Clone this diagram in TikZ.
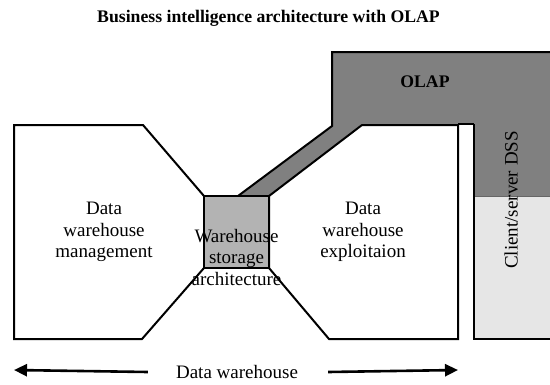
\documentclass[tikz,border=0pt]{standalone}
\usepackage{fontspec}
\setmainfont{Liberation Serif}
\usetikzlibrary{arrows.meta}
\definecolor{olapgrey}{HTML}{808080}
\definecolor{boxgrey}{HTML}{B3B3B3}
\definecolor{lightgrey}{HTML}{E6E6E6}
\tikzset{
  shapeline/.style={draw=black, line width=2pt, line join=miter},
  lbl/.style={align=center, inner sep=0pt, font=\fontsize{19}{21.5}\selectfont},
  ttl/.style={inner sep=0pt, font=\bfseries\fontsize{17.7}{20}\selectfont},
  bigarrow/.style={line width=2.6pt, -{Triangle[length=13pt,width=12pt]}},
}
\begin{document}
\begin{tikzpicture}[x=1pt,y=-1pt]
\useasboundingbox (0,0) rectangle (550,384);
% OLAP band
\fill[olapgrey] (332,52) -- (551,52) -- (551,196) -- (474,196) -- (474,124) -- (362,124) -- (269,196) -- (238,196) -- (332,126) -- cycle;
\draw[shapeline] (551,52) -- (332,52) -- (332,126) -- (238,196);
% client/server column
\fill[lightgrey] (474,196) rectangle (551,339);
\draw[draw=black!60, line width=0.6pt] (474,196) -- (551,196);
\draw[shapeline] (474,124) -- (474,339) -- (551,339);
\draw[shapeline] (458,124) -- (474,124);
% left shape
\draw[shapeline, fill=white] (14,125) -- (143,125) -- (204,196) -- (204,268) -- (142,339) -- (14,339) -- cycle;
% right shape
\draw[shapeline, fill=white] (269,196) -- (362,125) -- (458,125) -- (458,339) -- (329,339) -- (269,268) -- cycle;
% storage box
\draw[shapeline, fill=boxgrey] (204,196) rectangle (269,268);
% texts
\node[ttl] (title) at (268.5,18) {Business intelligence architecture with OLAP};
\node[ttl] (olap) at (425,82) {OLAP};
\node[lbl] (mgmt) at (104,232) {Data\\warehouse\\management};
\node[lbl] (expl) at (363,232) {Data\\warehouse\\exploitaion};
\node[lbl] (store) at (236.5,257) {Warehouse\\storage\\architecture};
\node[lbl, rotate=90] (dss) at (511,200) {Client/server DSS};
\node[lbl] (dw) at (237,372) {Data warehouse};
% arrows
\coordinate (lend) at (14,370);
\coordinate (rend) at (458,370);
\draw[bigarrow] ([xshift=-28pt]dw.west) -- (lend);
\draw[bigarrow] ([xshift=30pt]dw.east) -- (rend);
\end{tikzpicture}
\end{document}
